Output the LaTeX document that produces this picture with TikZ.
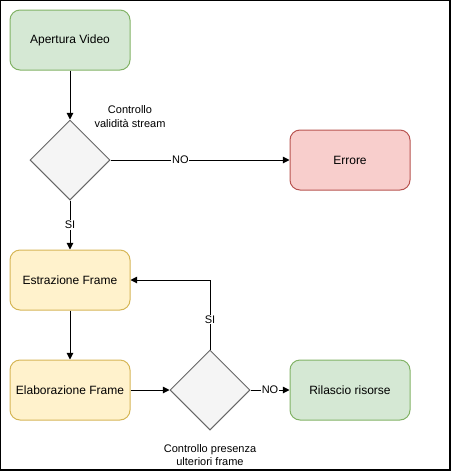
\documentclass[tikz,border=0pt]{standalone}
\usepackage{fontspec}
\setmainfont{Liberation Sans}
\usetikzlibrary{shapes.geometric,arrows.meta}
\definecolor{gfill}{HTML}{D5E8D4}\definecolor{gdraw}{HTML}{82B366}
\definecolor{rfill}{HTML}{F8CECC}\definecolor{rdraw}{HTML}{B85450}
\definecolor{yfill}{HTML}{FFF2CC}\definecolor{ydraw}{HTML}{D6B656}
\definecolor{dfill}{HTML}{F5F5F5}\definecolor{ddraw}{HTML}{666666}
\begin{document}
\begin{tikzpicture}[x=0.75pt,y=-0.75pt,
  box/.style={rectangle,rounded corners=7.5pt,minimum width=90pt,minimum height=45pt,inner sep=0pt,line width=0.75pt,font=\fontsize{9}{10.5}\selectfont},
  greenbox/.style={box,fill=gfill,draw=gdraw},
  redbox/.style={box,fill=rfill,draw=rdraw},
  yellowbox/.style={box,fill=yfill,draw=ydraw},
  decision/.style={diamond,aspect=1,minimum width=60pt,minimum height=60pt,inner sep=0pt,fill=dfill,draw=ddraw,line width=0.75pt},
  lbl/.style={font=\fontsize{8.25}{10}\selectfont,align=center,inner sep=1pt},
  elabel/.style={font=\fontsize{8.25}{9.5}\selectfont,fill=white,inner sep=0.5pt},
  conn/.style={draw=black,line width=0.75pt,-{Triangle[length=5pt,width=5pt]}}]
\useasboundingbox (0,0) rectangle (452,472);
\draw[line width=1.2pt] (0.6,0.6) rectangle (450,470);
\node[greenbox] (open) at (70,40) {Apertura Video};
\node[decision] (d1) at (70,160) {};
\node[lbl] (d1l) at (130,116.5) {Controllo\\validità stream};
\node[redbox] (err) at (350,160) {Errore};
\node[yellowbox] (estr) at (70,280) {Estrazione Frame};
\node[yellowbox] (elab) at (70,390) {Elaborazione Frame};
\node[decision] (d2) at (210,390) {};
\node[lbl] (d2l) at (210,455) {Controllo presenza\\ulteriori frame};
\node[greenbox] (ril) at (350,390) {Rilascio risorse};
\coordinate (corner) at (210,280);
\draw[conn] (open) -- (d1.north);
\draw[conn] (d1.east) -- node[elabel,pos=0.39] {NO} (err.west);
\draw[conn] (d1.south) -- node[elabel,pos=0.5] {SI} (estr.north);
\draw[conn] (estr) -- (elab);
\draw[conn] (elab) -- (d2.west);
\draw[conn] (d2.east) -- node[elabel,pos=0.5] {NO} (ril.west);
\draw[conn] (d2.north) -- node[elabel,pos=0.43] {SI} (corner) -- (estr.east);
\end{tikzpicture}
\end{document}
